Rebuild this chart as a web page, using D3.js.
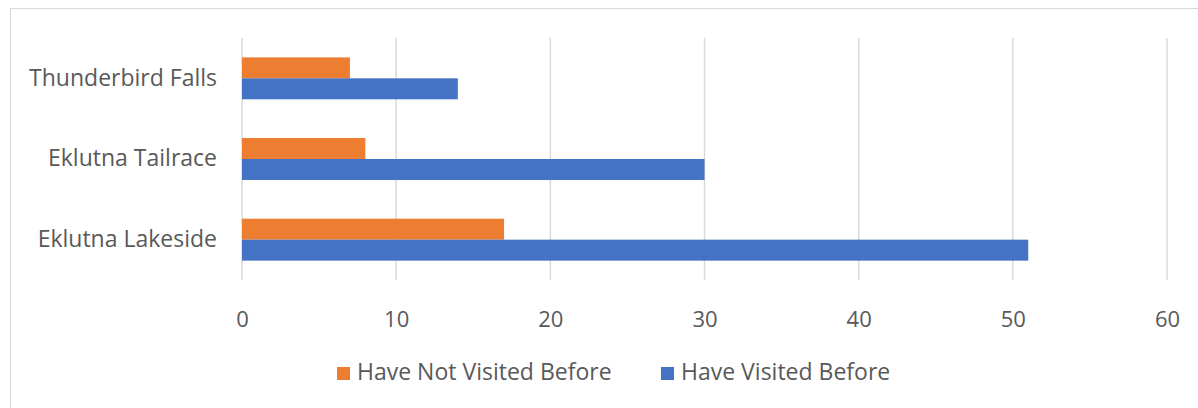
<!DOCTYPE html>
<html>
<head>
<meta charset="utf-8">
<script src="https://cdn.jsdelivr.net/npm/d3@7"></script>
<style>
  body { margin: 0; background: #fff; }
  text { font-family: "Open Sans", sans-serif; fill: #595959; }
</style>
</head>
<body>
<div id="chart"></div>
<script>
var categories = ["Thunderbird Falls", "Eklutna Tailrace", "Eklutna Lakeside"];
var notVisited = [7, 8, 17];
var visited = [14, 30, 51];
var seriesNames = ["Have Not Visited Before", "Have Visited Before"];
var tickValues = [0, 10, 20, 30, 40, 50, 60];
var colors = ["#ED7D31", "#4472C4"];

var width = 1198,
    height = 408;

var svg = d3.select("#chart").append("svg")
    .attr("width", width)
    .attr("height", height);

// outer chart frame
svg.append("rect")
    .attr("x", 10.5)
    .attr("y", 8.5)
    .attr("width", 1200)
    .attr("height", 420)
    .attr("fill", "none")
    .attr("stroke", "#d9d9d9");

var x = d3.scaleLinear()
    .domain([0, 60])
    .range([242, 1167]);

var y = d3.scaleBand()
    .domain(categories)
    .range([38, 280])
    .paddingInner(0.48)
    .paddingOuter(0.24);

var sub = d3.scaleBand()
    .domain([0, 1])
    .range([0, y.bandwidth()]);

// gridlines
svg.append("g")
    .selectAll("line")
    .data(tickValues)
    .join("line")
    .attr("x1", d => x(d))
    .attr("x2", d => x(d))
    .attr("y1", 38)
    .attr("y2", 280)
    .attr("stroke", "#d9d9d9")
    .attr("stroke-width", 1.5);

// bars
var series = [notVisited, visited];
series.forEach(function (vals, s) {
    svg.append("g")
        .selectAll("rect")
        .data(vals)
        .join("rect")
        .attr("x", x(0))
        .attr("y", (d, i) => y(categories[i]) + sub(s))
        .attr("width", d => x(d) - x(0))
        .attr("height", sub.bandwidth())
        .attr("fill", colors[s]);
});

// x axis labels
var xAxis = svg.append("g")
    .attr("transform", "translate(0,280)")
    .call(d3.axisBottom(x).tickValues(tickValues).tickSize(0).tickPadding(31));
xAxis.select(".domain").remove();
xAxis.selectAll("text")
    .style("font-size", "22px")
    .attr("fill", "#595959");

// category labels
var yAxis = svg.append("g")
    .attr("transform", "translate(242,0)")
    .call(d3.axisLeft(y).tickSize(0).tickPadding(25));
yAxis.select(".domain").remove();
yAxis.selectAll("text")
    .style("font-size", "23px")
    .attr("fill", "#595959");

// legend
var legendX = [337, 661];
var legend = svg.append("g");
seriesNames.forEach(function (name, i) {
    legend.append("rect")
        .attr("x", legendX[i])
        .attr("y", 367)
        .attr("width", 13)
        .attr("height", 13)
        .attr("fill", colors[i]);
    legend.append("text")
        .attr("x", legendX[i] + 20)
        .attr("y", 380)
        .style("font-size", "23px")
        .text(name);
});
</script>
</body>
</html>
